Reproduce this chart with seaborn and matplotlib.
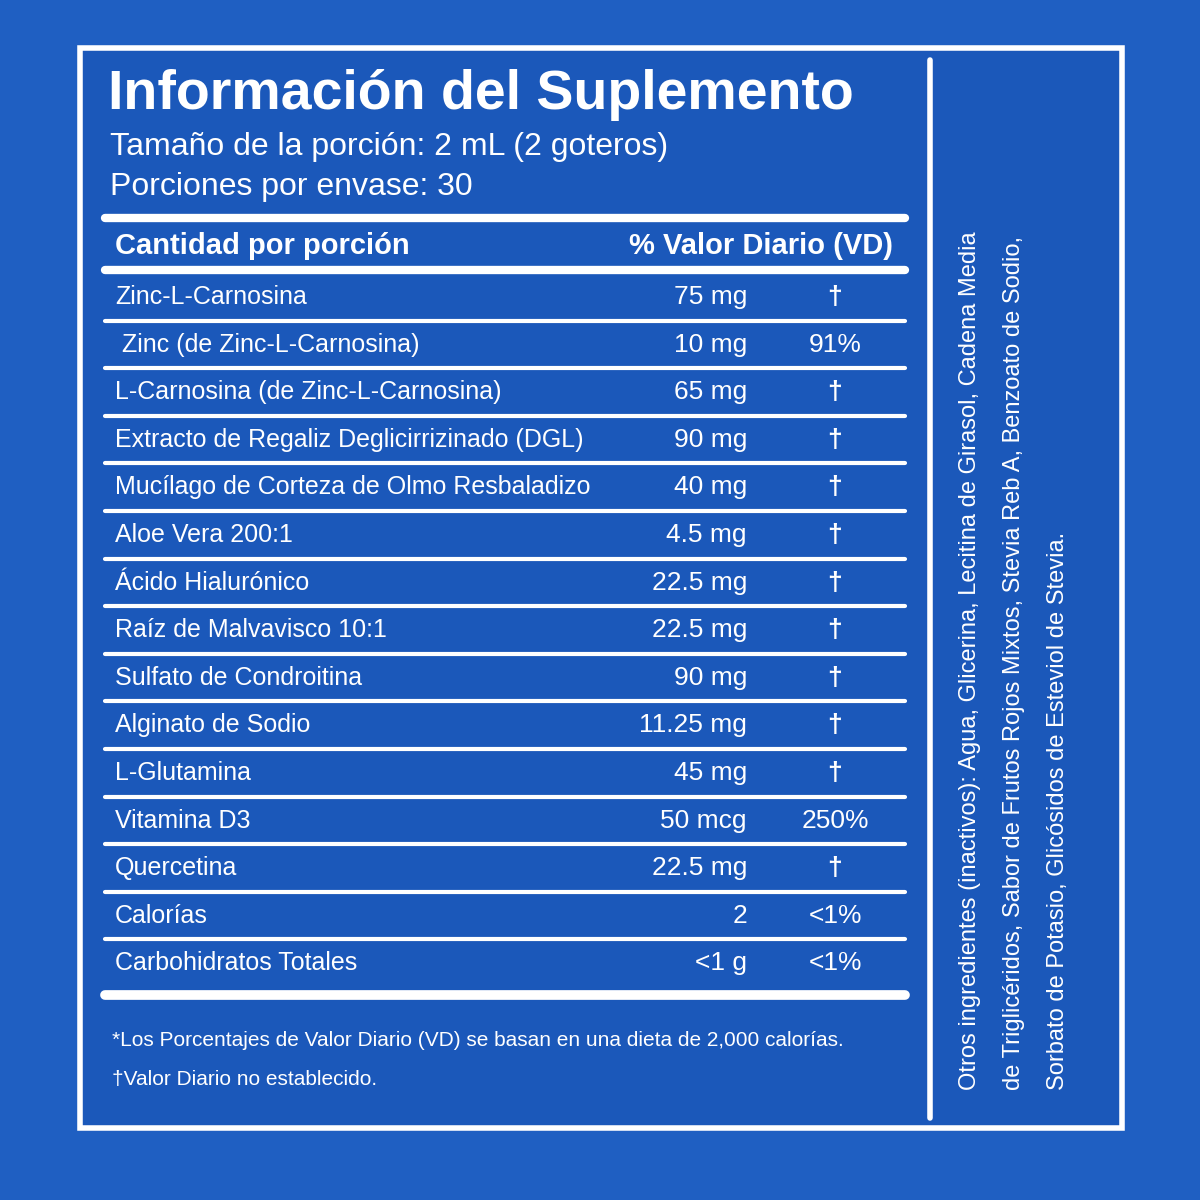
import matplotlib
matplotlib.use("Agg")
import matplotlib.pyplot as plt
import seaborn as sns

sns.set_style("white")
plt.rcParams['font.family'] = ['Liberation Sans', 'DejaVu Sans']

title = "Información del Suplemento"
serving = "Tamaño de la porción: 2 mL (2 goteros)"
servings = "Porciones por envase: 30"
header_left = "Cantidad por porción"
header_right = "% Valor Diario (VD)"
ingredients = ["Zinc-L-Carnosina", " Zinc (de Zinc-L-Carnosina)", "L-Carnosina (de Zinc-L-Carnosina)",
               "Extracto de Regaliz Deglicirrizinado (DGL)", "Mucílago de Corteza de Olmo Resbaladizo",
               "Aloe Vera 200:1", "Ácido Hialurónico", "Raíz de Malvavisco 10:1", "Sulfato de Condroitina",
               "Alginato de Sodio", "L-Glutamina", "Vitamina D3", "Quercetina", "Calorías",
               "Carbohidratos Totales"]
amounts = ["75 mg", "10 mg", "65 mg", "90 mg", "40 mg", "4.5 mg", "22.5 mg", "22.5 mg", "90 mg",
           "11.25 mg", "45 mg", "50 mcg", "22.5 mg", "2", "<1 g"]
dv = ["†", "91%", "†", "†", "†", "†", "†", "†", "†", "†", "†", "250%", "†", "<1%", "<1%"]
footnotes = ["*Los Porcentajes de Valor Diario (VD) se basan en una dieta de 2,000 calorías.",
             "†Valor Diario no establecido."]
other = ["Otros ingredientes (inactivos): Agua, Glicerina, Lecitina de Girasol, Cadena Media",
         "de Triglicéridos, Sabor de Frutos Rojos Mixtos, Stevia Reb A, Benzoato de Sodio,",
         "Sorbato de Potasio, Glicósidos de Esteviol de Stevia."]

bg = "#1f5fc2"
fig = plt.figure(figsize=(12, 12), dpi=100, facecolor=bg)
ax = fig.add_axes([0, 0, 1, 1])
ax.set_facecolor(bg)
ax.set_xlim(0, 1200); ax.set_ylim(1200, 0); ax.axis("off")

ax.add_patch(plt.Rectangle((80, 48), 1042, 1080, fill=True, facecolor="#1b58ba", edgecolor="white", lw=4))
ax.plot([930, 930], [60, 1118], color="white", lw=4)

ax.text(108, 95, title, color="white", fontsize=40, fontweight="bold", va="center")
ax.text(110, 147, serving, color="white", fontsize=23, va="center")
ax.text(110, 187, servings, color="white", fontsize=23, va="center")

ax.plot([105, 905], [218, 218], color="white", lw=6)
ax.text(115, 246, header_left, color="white", fontsize=21, fontweight="bold", va="center",
        family=["Liberation Sans Narrow", "Liberation Sans"])
ax.text(893, 246, header_right, color="white", fontsize=21, fontweight="bold", va="center", ha="right",
        family=["Liberation Sans Narrow", "Liberation Sans"])
ax.plot([105, 905], [270, 270], color="white", lw=6)

y0, step = 297, 47.6
for i, (ing, am, d) in enumerate(zip(ingredients, amounts, dv)):
    y = y0 + i * step
    ax.text(115, y, ing, color="white", fontsize=18, va="center")
    ax.text(747, y, am, color="white", fontsize=19, va="center", ha="right")
    ax.text(835, y, d, color="white", fontsize=19, va="center", ha="center",
            fontweight="bold" if d == "†" else "normal")
    if i < len(ingredients) - 1:
        ax.plot([105, 905], [y + 23.5, y + 23.5], color="white", lw=3)
ax.plot([105, 905], [995, 995], color="white", lw=7)

ax.text(112, 1040, footnotes[0], color="white", fontsize=15, va="center")
ax.text(112, 1080, footnotes[1], color="white", fontsize=15, va="center")

for i, line in enumerate(other):
    ax.text(970 + i * 44, 1090, line, color="white", fontsize=17, rotation=90, va="bottom", ha="center")

fig.savefig("out.png", dpi=100, facecolor=bg)
